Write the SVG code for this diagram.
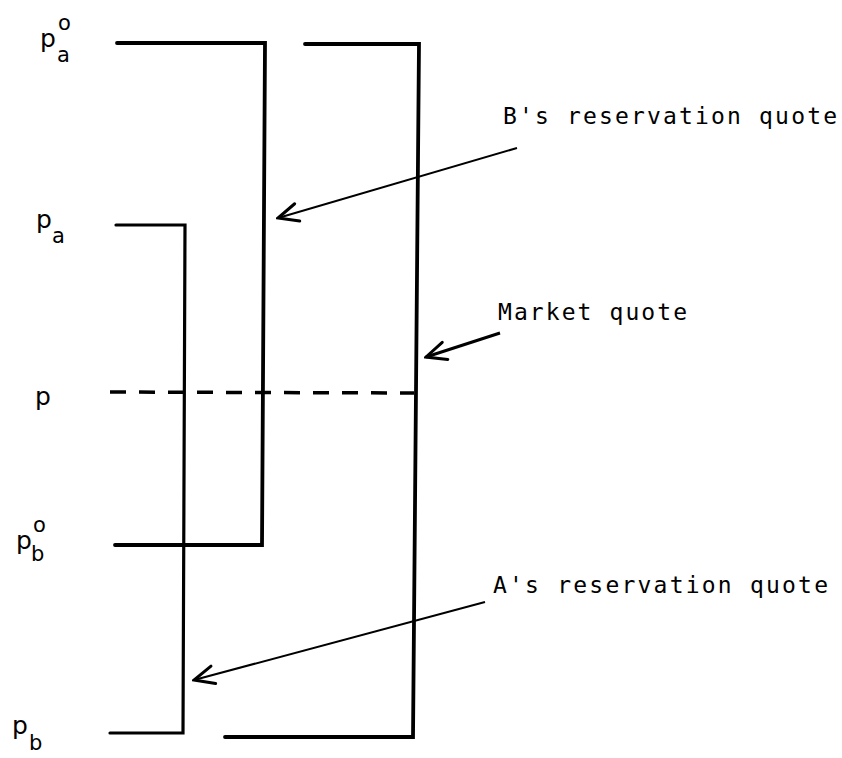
<svg xmlns="http://www.w3.org/2000/svg" width="842" height="758" viewBox="0 0 842 758">
<style>
.br{fill:none;stroke:#000;stroke-width:3.8;stroke-linejoin:miter;stroke-linecap:round}
.dash{fill:none;stroke:#000;stroke-width:3.5;stroke-dasharray:16 13}
.arr{fill:none;stroke:#000;stroke-width:2;marker-end:url(#v)}
.arrT{fill:none;stroke:#000;stroke-width:3;marker-end:url(#v)}
.lbl{font-family:"DejaVu Sans Mono","Liberation Mono",monospace;font-size:23px;fill:#000}
.p{font-family:"DejaVu Sans","Liberation Sans",sans-serif;font-size:25px;fill:#000}
.s{font-family:"DejaVu Sans","Liberation Sans",sans-serif;font-size:21px;fill:#000}
</style>
<defs>
<marker id="v" viewBox="-24 -12 26 24" refX="0" refY="0" markerWidth="26" markerHeight="24" markerUnits="userSpaceOnUse" orient="auto">
<path d="M-20,-9 L0,0 L-20,9" fill="none" stroke="#000" stroke-width="3" stroke-linecap="round" stroke-linejoin="miter"/>
</marker>
</defs>
<rect width="842" height="758" fill="#fff"/>
<g id="B-reservation">
<path class="br" d="M117,43 L265,43 L262,545 L115,545"/>
</g>
<g id="market-quote">
<path class="br" d="M305,44 L419,44 L413,737 L225,737"/>
</g>
<g id="A-reservation">
<path class="br" d="M116,225 L185,225 L183,733 L110,733" style="stroke-width:3.2"/>
</g>
<g id="price-p">
<line class="dash" x1="110" y1="392" x2="414" y2="393"/>
</g>
<g id="axis-labels">
<text class="p" x="40" y="47">p</text><text class="s" x="58" y="30">o</text><text class="s" x="57" y="62">a</text>
<text class="p" x="36" y="228">p</text><text class="s" x="52" y="243">a</text>
<text class="p" x="35" y="405">p</text>
<text class="p" x="16" y="549">p</text><text class="s" x="33" y="532">o</text><text class="s" x="31" y="561">b</text>
<text class="p" x="12" y="734">p</text><text class="s" x="29" y="750">b</text>
</g>
<g id="annotations">
<text class="lbl" x="503" y="124" textLength="334" lengthAdjust="spacing">B's reservation quote</text>
<text class="lbl" x="498" y="320" textLength="189" lengthAdjust="spacing">Market quote</text>
<text class="lbl" x="493" y="593" textLength="335" lengthAdjust="spacing">A's reservation quote</text>
</g>
<g id="connectors">
<line class="arr" x1="517" y1="148" x2="278" y2="218"/>
<line class="arrT" x1="500" y1="333" x2="426" y2="357"/>
<line class="arr" x1="485" y1="602" x2="194" y2="680"/>
</g>
</svg>
